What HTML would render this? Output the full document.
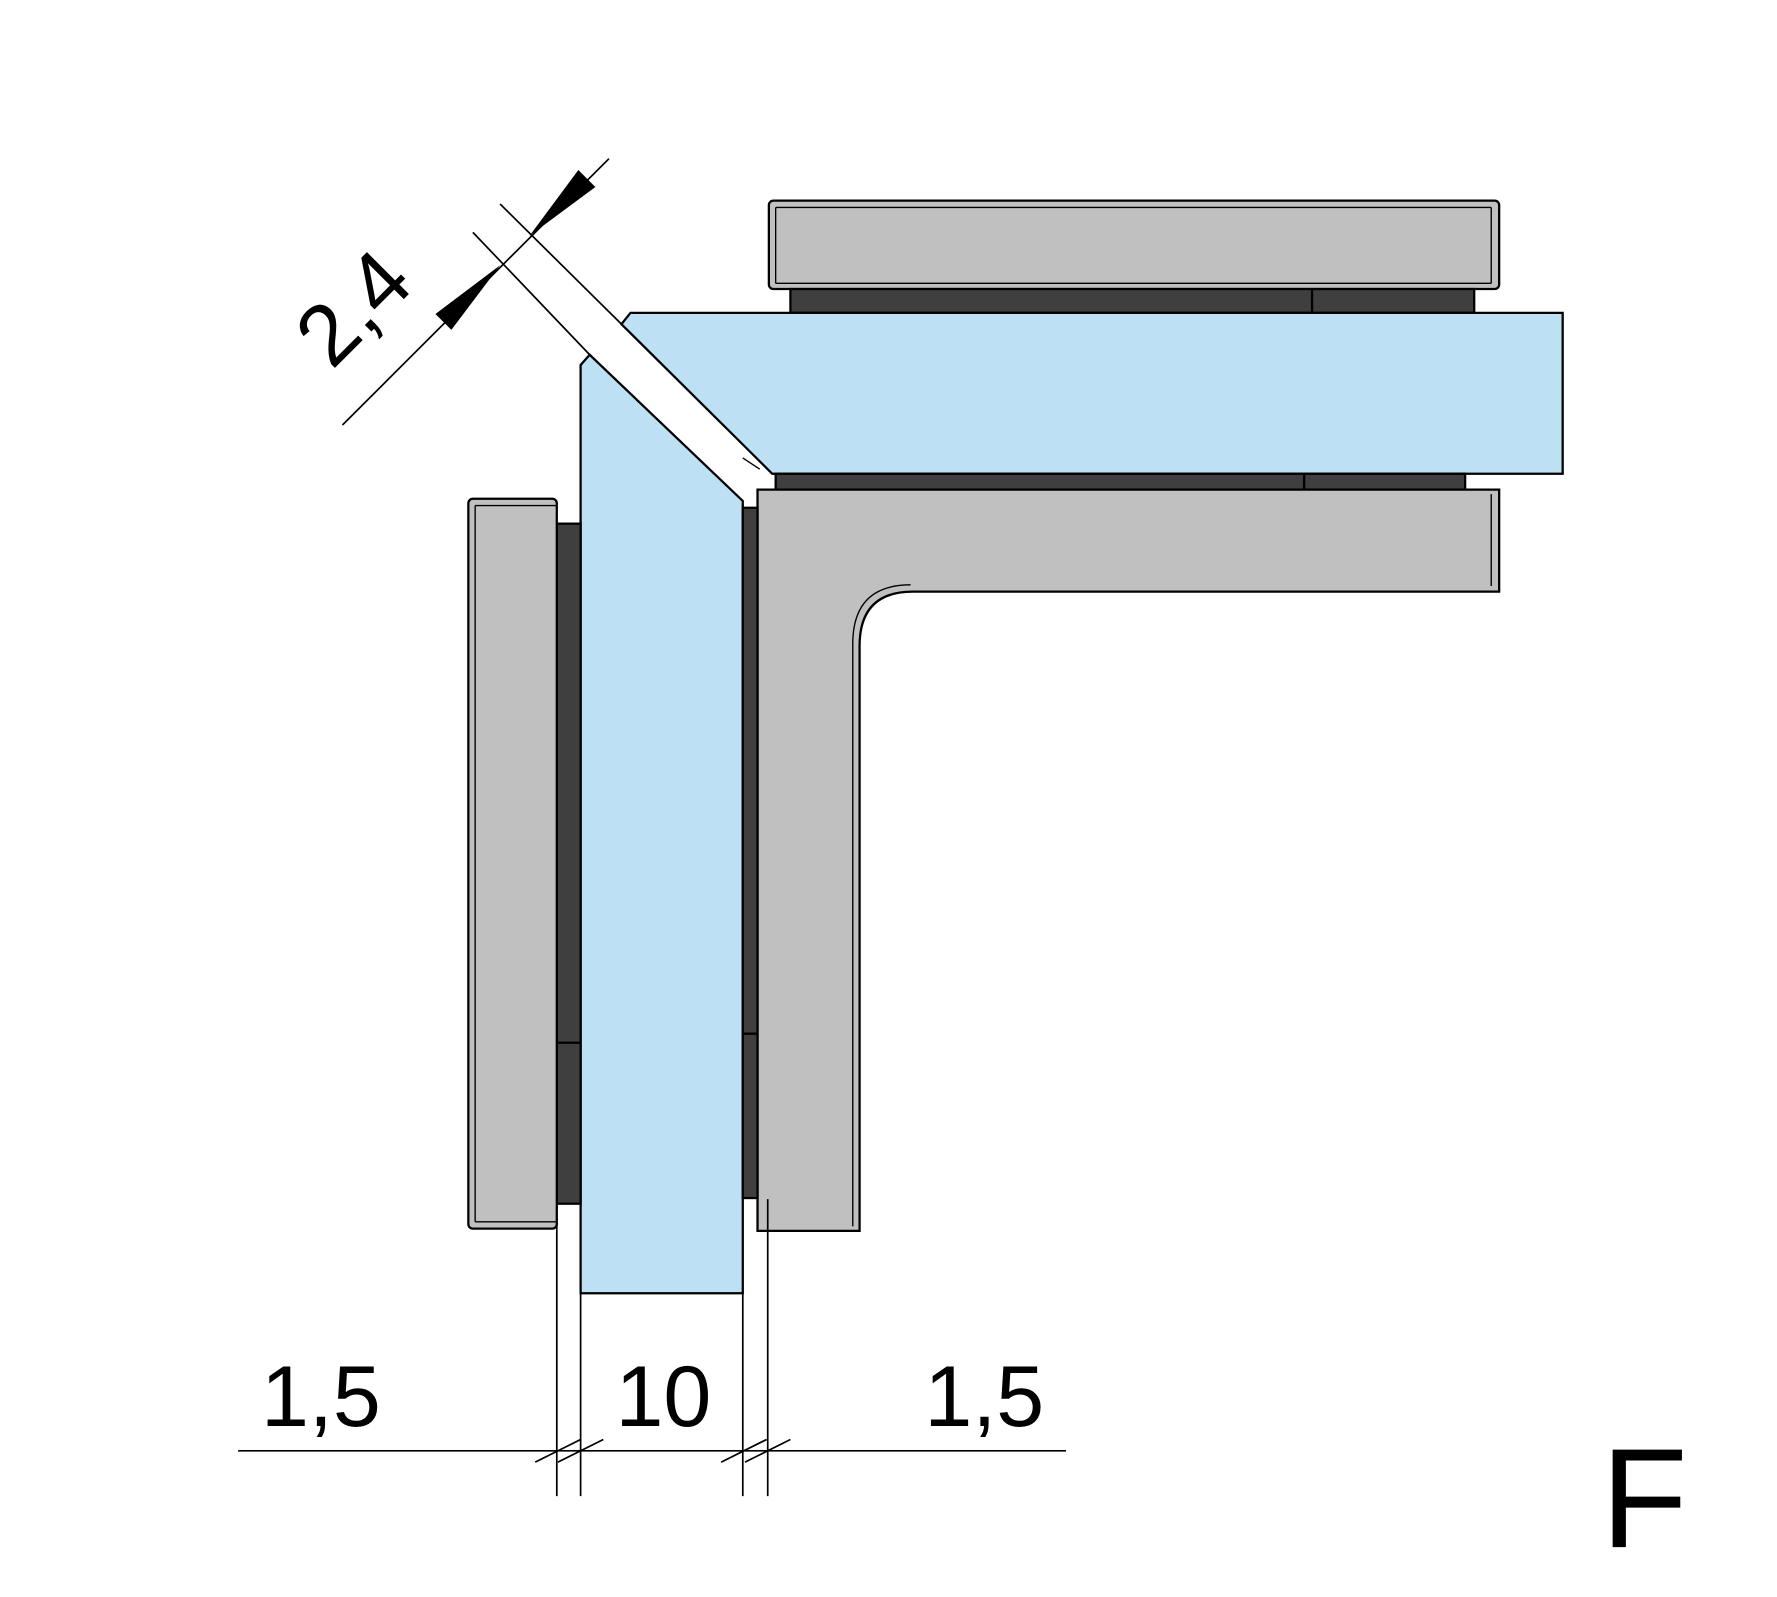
<!DOCTYPE html>
<html><head><meta charset="utf-8"><style>
html,body{margin:0;padding:0;background:#fff;}
svg{display:block;}
text{font-family:"Liberation Sans",sans-serif;fill:#000;}
</style></head><body>
<svg width="1777" height="1597" viewBox="0 0 1567 1409" preserveAspectRatio="none" xmlns="http://www.w3.org/2000/svg">
<g stroke="#000" stroke-width="2">
<rect x="678" y="177" width="644" height="78" rx="4" fill="#c0c0c0"/>
<line x1="684" y1="183" x2="1315" y2="183" stroke-width="1.2"/>
<line x1="684" y1="250" x2="1315" y2="250" stroke-width="1.2"/>
<line x1="684" y1="183" x2="684" y2="250" stroke-width="1.2"/>
<line x1="1315" y1="183" x2="1315" y2="250" stroke-width="1.2"/>
<rect x="697" y="255" width="603" height="21" fill="#3f3f3f"/>
<line x1="1157" y1="255" x2="1157" y2="276"/>
<polygon points="556,276 1378,276 1378,418 681,418 548,286" fill="#bde0f5"/>
<line x1="655" y1="404" x2="670" y2="414" stroke-width="1.2"/>
<rect x="684" y="418" width="608" height="14" fill="#3f3f3f"/>
<line x1="1150" y1="418" x2="1150" y2="432"/>
<path d="M668,432 L1322,432 L1322,522 L805,522 Q758,522 758,570 L758,1086 L668,1086 Z" fill="#c0c0c0"/>
<path d="M1315,436 L1315,517 M803,516 Q752,516 752,568 L752,1082" fill="none" stroke-width="1.2"/>
<polygon points="512,322 520,313 655,442 655,1141 512,1141" fill="#bde0f5"/>
<rect x="491" y="462" width="21" height="600" fill="#3f3f3f"/>
<line x1="491" y1="920" x2="512" y2="920"/>
<rect x="655" y="448" width="13" height="609" fill="#3f3f3f"/>
<line x1="655" y1="912" x2="668" y2="912"/>
<rect x="413" y="440" width="78" height="644" rx="4" fill="#c0c0c0"/>
<line x1="419" y1="446" x2="419" y2="1078" stroke-width="1.2"/>
<line x1="419" y1="446" x2="491" y2="446" stroke-width="1.2"/>
<line x1="419" y1="1078" x2="491" y2="1078" stroke-width="1.2"/>
</g>
<g stroke="#000" stroke-width="1.5" fill="none">
<line x1="210" y1="1280" x2="940" y2="1280"/>
<line x1="491" y1="1064" x2="491" y2="1320"/>
<line x1="512" y1="1141" x2="512" y2="1320"/>
<line x1="655" y1="1141" x2="655" y2="1320"/>
<line x1="677" y1="1058" x2="677" y2="1320"/>
<line x1="472" y1="1290" x2="512" y2="1270"/>
<line x1="492" y1="1290" x2="532" y2="1270"/>
<line x1="636" y1="1290" x2="676" y2="1270"/>
<line x1="657" y1="1290" x2="697" y2="1270"/>
<line x1="441" y1="180" x2="548" y2="286"/>
<line x1="417" y1="205" x2="520" y2="313"/>
<line x1="302" y1="375" x2="537" y2="140"/>
</g>
<polygon points="467,208 510,150 525,165" fill="#000"/>
<polygon points="441,234 398,291 384,277" fill="#000"/>
<text x="283" y="1258" font-size="76" text-anchor="middle">1,5</text>
<text x="585" y="1258" font-size="76" text-anchor="middle">10</text>
<text x="868" y="1258" font-size="76" text-anchor="middle">1,5</text>
<text x="0" y="0" font-size="76" text-anchor="middle" transform="translate(330,290) rotate(-45)">2,4</text>
<text x="1450" y="1365" font-size="125" text-anchor="middle">F</text>
</svg>
</body></html>
